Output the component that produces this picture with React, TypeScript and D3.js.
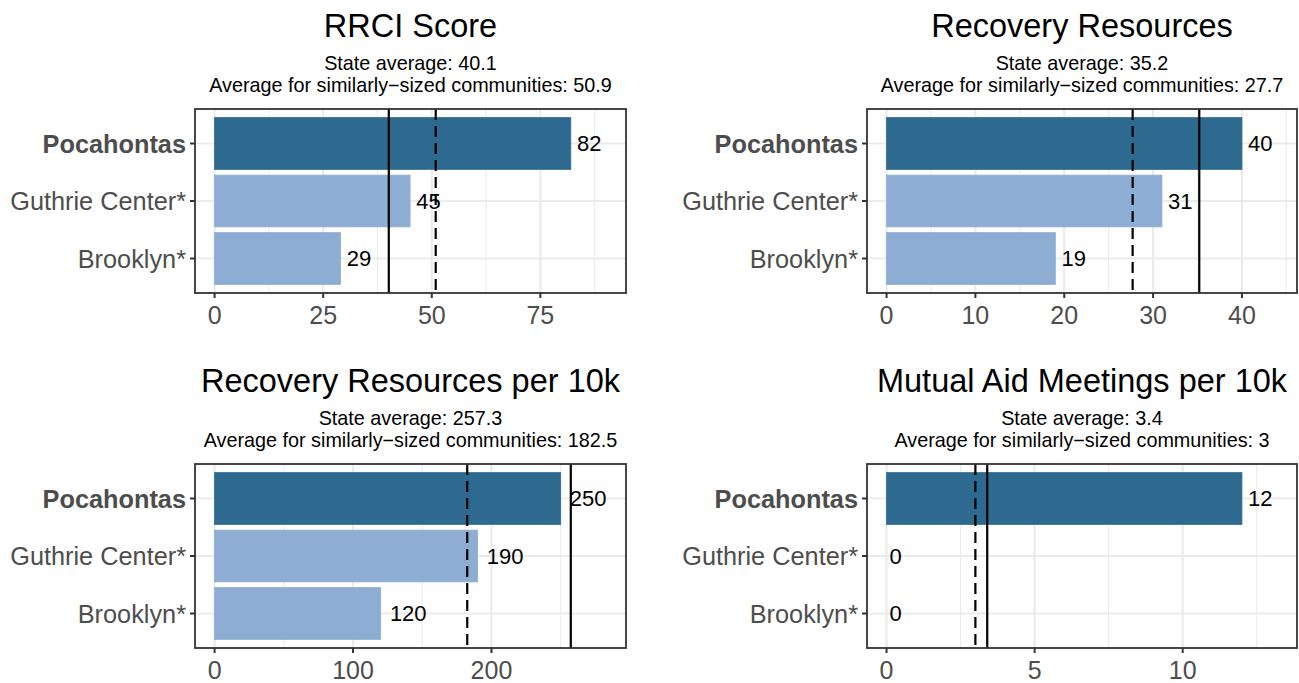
import React from 'react';
import * as d3 from 'd3';

const communities = ['Pocahontas', 'Guthrie Center*', 'Brooklyn*'];
const metrics = ['RRCI Score', 'Recovery Resources', 'Recovery Resources per 10k', 'Mutual Aid Meetings per 10k'];

const rrciScore = [82, 45, 29];
const recoveryResources = [40, 31, 19];
const resourcesPer10k = [250, 190, 120];
const meetingsPer10k = [12, 0, 0];

const stateAverage = [40.1, 35.2, 257.3, 3.4];
const similarAverage = [50.9, 27.7, 182.5, 3];

const xTicks = [
  [0, 25, 50, 75],
  [0, 10, 20, 30, 40],
  [0, 100, 200],
  [0, 5, 10],
];

const seriesValues = [rrciScore, recoveryResources, resourcesPer10k, meetingsPer10k];

const WIDTH = 1299;
const HEIGHT = 683;
const FONT = '"Liberation Sans", Arial, Helvetica, sans-serif';
const DARK = '#2E6A8F';
const LIGHT = '#8DAED2';

const cols = [
  { left: 195, right: 626 },
  { left: 867, right: 1297 },
];
const rows = [
  { top: 109, bottom: 293 },
  { top: 464, bottom: 648 },
];

const Panel = ({ idx }) => {
  const col = cols[idx % 2];
  const row = rows[Math.floor(idx / 2)];
  const values = seriesValues[idx];
  const state = stateAverage[idx];
  const similar = similarAverage[idx];
  const ticks = xTicks[idx];

  // limits like ggplot: max * 1.1, then 5% expansion
  const lim = 1.1 * Math.max(d3.max(values), state, similar);
  const x = d3
    .scaleLinear()
    .domain([-0.05 * lim, 1.05 * lim])
    .range([col.left, col.right]);

  const y = d3
    .scalePoint()
    .domain(communities)
    .range([row.top, row.bottom])
    .padding(0.6);
  const step = y.step();
  const barH = step * 0.9;

  const tickStep = ticks[1] - ticks[0];
  const minor = d3
    .range(ticks[0] - tickStep / 2, lim * 1.05, tickStep)
    .filter((v) => v > x.domain()[0] && v < x.domain()[1] && !ticks.includes(v));

  const cx = (col.left + col.right) / 2;
  const labelSize = 22;

  return (
    <g>
      {/* titles */}
      <text x={cx} y={row.top - 72} textAnchor="middle" fontSize={32.5} fill="#000">
        {metrics[idx]}
      </text>
      <text x={cx} y={row.top - 39} textAnchor="middle" fontSize={19.8} fill="#000">
        {`State average: ${state}`}
      </text>
      <text x={cx} y={row.top - 17} textAnchor="middle" fontSize={19.8} fill="#000">
        {`Average for similarly\u2212sized communities: ${similar}`}
      </text>

      {/* panel background + grid */}
      <rect x={col.left} y={row.top} width={col.right - col.left} height={row.bottom - row.top} fill="#fff" />
      {minor.map((v) => (
        <line key={'mi' + v} x1={x(v)} x2={x(v)} y1={row.top} y2={row.bottom} stroke="#EBEBEB" strokeWidth={1.1} />
      ))}
      {ticks.map((v) => (
        <line key={'ma' + v} x1={x(v)} x2={x(v)} y1={row.top} y2={row.bottom} stroke="#EBEBEB" strokeWidth={2.2} />
      ))}
      {communities.map((c) => (
        <line key={'h' + c} x1={col.left} x2={col.right} y1={y(c)} y2={y(c)} stroke="#EBEBEB" strokeWidth={2.2} />
      ))}

      {/* bars */}
      {communities.map((c, i) => (
        <rect
          key={'b' + c}
          x={x(0)}
          y={y(c) - barH / 2}
          width={x(values[i]) - x(0)}
          height={barH}
          fill={i === 0 ? DARK : LIGHT}
          stroke={i === 0 ? DARK : LIGHT}
          strokeWidth={0.8}
        />
      ))}

      {/* value labels */}
      {communities.map((c, i) => {
        const txt = String(values[i]);
        const w = txt.length * 0.556 * labelSize;
        return (
          <text
            key={'l' + c}
            x={x(values[i]) + 0.25 * w}
            y={y(c)}
            dy="0.36em"
            fontSize={labelSize}
            fill="#000"
          >
            {txt}
          </text>
        );
      })}

      {/* reference lines */}
      <line x1={x(state)} x2={x(state)} y1={row.top} y2={row.bottom} stroke="#000" strokeWidth={2.2} />
      <line
        x1={x(similar)}
        x2={x(similar)}
        y1={row.top}
        y2={row.bottom}
        stroke="#000"
        strokeWidth={2.2}
        strokeDasharray="11 6"
      />

      {/* border */}
      <rect
        x={col.left}
        y={row.top}
        width={col.right - col.left}
        height={row.bottom - row.top}
        fill="none"
        stroke="#333333"
        strokeWidth={1.8}
      />

      {/* y axis */}
      {communities.map((c, i) => (
        <g key={'y' + c}>
          <line x1={col.left - 5} x2={col.left} y1={y(c)} y2={y(c)} stroke="#333333" strokeWidth={2} />
          <text
            x={col.left - 9}
            y={y(c)}
            dy="0.36em"
            textAnchor="end"
            fontSize={25.3}
            fontWeight={i === 0 ? 'bold' : 'normal'}
            fill="#4D4D4D"
          >
            {c}
          </text>
        </g>
      ))}

      {/* x axis */}
      {ticks.map((v) => (
        <g key={'x' + v}>
          <line x1={x(v)} x2={x(v)} y1={row.bottom} y2={row.bottom + 5} stroke="#333333" strokeWidth={2} />
          <text x={x(v)} y={row.bottom + 31} textAnchor="middle" fontSize={25} fill="#4D4D4D">
            {v}
          </text>
        </g>
      ))}
    </g>
  );
};

export default function App() {
  return (
    <svg
      width={WIDTH}
      height={HEIGHT}
      style={{ position: 'absolute', left: 0, top: 0, background: '#fff' }}
      fontFamily={FONT}
    >
      <rect width={WIDTH} height={HEIGHT} fill="#fff" />
      {metrics.map((m, i) => (
        <Panel key={m} idx={i} />
      ))}
    </svg>
  );
}
